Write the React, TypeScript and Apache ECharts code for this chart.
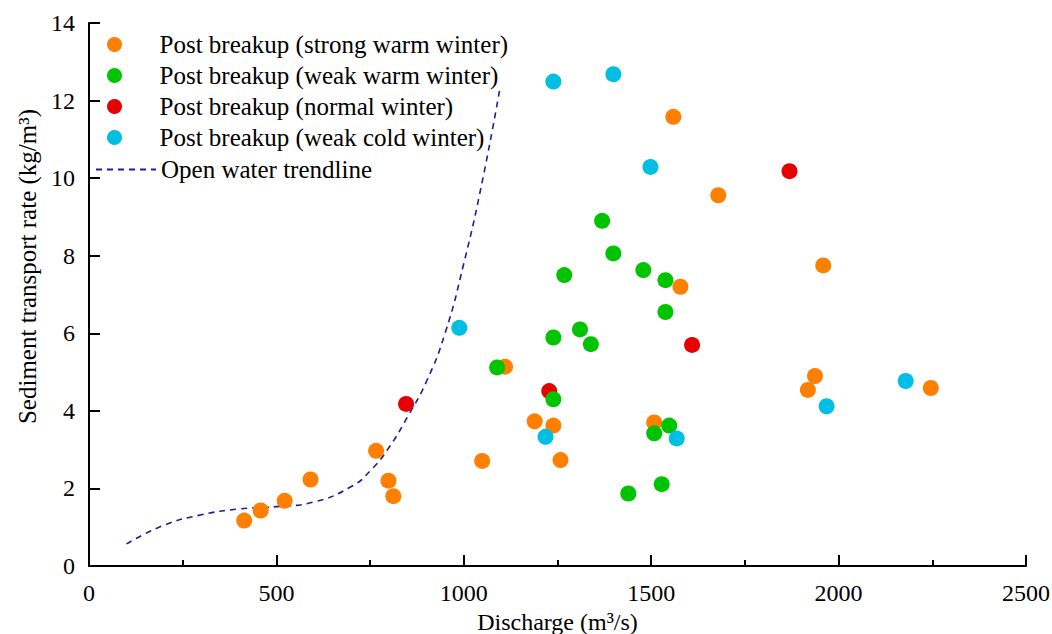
import React, { useEffect, useRef } from "react";
import * as echarts from "echarts";

const FONT = "'Liberation Serif', 'Times New Roman', serif";

const strongWarmX = [414, 458, 522, 591, 766, 799, 812, 1049, 1110, 1189, 1239, 1258, 1559, 1508, 1578, 1679, 1918, 1937, 1959, 2246];
const strongWarmY = [1.17, 1.43, 1.68, 2.23, 2.97, 2.2, 1.8, 2.71, 5.14, 3.73, 3.62, 2.73, 11.58, 3.7, 7.2, 9.56, 4.54, 4.9, 7.75, 4.59];

const weakWarmX = [1369, 1399, 1268, 1479, 1538, 1538, 1239, 1310, 1339, 1089, 1239, 1508, 1548, 1439, 1528];
const weakWarmY = [8.9, 8.06, 7.5, 7.63, 7.37, 6.55, 5.89, 6.1, 5.72, 5.12, 4.3, 3.42, 3.62, 1.87, 2.11];

const normalX = [846, 1228, 1609, 1869];
const normalY = [4.18, 4.51, 5.7, 10.18];

const weakColdX = [1239, 1399, 1498, 988, 1218, 1568, 1968, 2179];
const weakColdY = [12.49, 12.68, 10.29, 6.14, 3.33, 3.29, 4.12, 4.77];

const trendX = [100, 200, 300, 400, 500, 600, 700, 750, 800, 850, 900, 950, 1000, 1050, 1097];
const trendY = [0.57, 1.05, 1.32, 1.47, 1.53, 1.65, 2.05, 2.45, 3.05, 3.85, 4.75, 6.0, 7.8, 9.95, 12.35];

const seriesNames = [
  "Post breakup (strong warm winter)",
  "Post breakup (weak warm winter)",
  "Post breakup (normal winter)",
  "Post breakup (weak cold winter)",
];
const trendName = "Open water trendline";

const xTicks = { min: 0, max: 2500, interval: 500 };
const yTicks = { min: 0, max: 14, interval: 2 };

const zip = (xs: number[], ys: number[]) => xs.map((x, i) => [x, ys[i]]);

export default function App() {
  const ref = useRef<HTMLDivElement>(null);
  useEffect(() => {
    if (!ref.current) return;
    document.body.style.margin = "0";
    const chart = echarts.init(ref.current, undefined, { renderer: "svg" });
    const axisCommon = {
      axisLine: { show: true, lineStyle: { color: "#000", width: 2 } },
      axisTick: { show: true, inside: true, length: 11, lineStyle: { color: "#000", width: 2 } },
      splitLine: { show: false },
      nameTextStyle: { fontFamily: FONT, fontSize: 25, color: "#000" },
    };
    const scatter = (name: string, xs: number[], ys: number[], color: string, z: number) => ({
      name,
      type: "scatter",
      data: zip(xs, ys),
      symbol: "circle",
      symbolSize: 16,
      itemStyle: { color, opacity: 1 },
      z,
    });
    chart.setOption({
      animation: false,
      backgroundColor: "#fff",
      grid: {
        left: 89,
        top: 23,
        width: 937,
        height: 543,
        containLabel: false,
        outerBoundsMode: "none",
      },
      legend: [
        {
          data: seriesNames,
          orient: "vertical",
          left: 107,
          top: 32,
          padding: 0,
          itemWidth: 80,
          itemHeight: 15,
          itemGap: 6,
          icon: "circle",
          textStyle: { fontFamily: FONT, fontSize: 25, color: "#000" },
        },
        {
          data: [trendName],
          orient: "vertical",
          left: 95,
          top: 157,
          padding: 0,
          itemWidth: 60,
          itemHeight: 15,
          itemStyle: { color: "rgba(0,0,0,0)", borderWidth: 0, opacity: 0 },
          textStyle: { fontFamily: FONT, fontSize: 25, color: "#000" },
        },
      ],
      xAxis: {
        type: "value",
        min: xTicks.min,
        max: xTicks.max,
        interval: xTicks.interval,
        name: "Discharge (m³/s)",
        nameLocation: "middle",
        nameGap: 36,
        ...axisCommon,
        nameTextStyle: { fontFamily: FONT, fontSize: 24, color: "#000" },
        minorTick: { show: true, splitNumber: 2, length: 6, lineStyle: { color: "#000", width: 2 } },
        axisLabel: { fontFamily: FONT, fontSize: 24, color: "#000", margin: 15, formatter: (v: number) => String(v) },
      },
      yAxis: {
        type: "value",
        min: yTicks.min,
        max: yTicks.max,
        interval: yTicks.interval,
        name: "Sediment transport rate (kg/m³)",
        nameLocation: "middle",
        nameGap: 47,
        ...axisCommon,
        nameTextStyle: { fontFamily: FONT, fontSize: 25, color: "#000", padding: [0, 0, 0, 56] },
        axisLabel: { fontFamily: FONT, fontSize: 24, color: "#000", margin: 14 },
      },
      series: [
        scatter(seriesNames[0], strongWarmX, strongWarmY, "#ff7f00", 2),
        scatter(seriesNames[1], weakWarmX, weakWarmY, "#00c400", 4),
        scatter(seriesNames[2], normalX, normalY, "#e60000", 3),
        scatter(seriesNames[3], weakColdX, weakColdY, "#00bfe3", 5),
        {
          name: trendName,
          type: "line",
          data: zip(trendX, trendY),
          smooth: true,
          symbol: "none",
          showSymbol: false,
          lineStyle: { color: "#1c1ca0", width: 1.6, type: [6, 5] },
          itemStyle: { color: "#1c1ca0" },
          z: 1,
        },
      ],
    });
    return () => chart.dispose();
  }, []);
  return <div ref={ref} style={{ width: 1052, height: 634, background: "#fff" }} />;
}
